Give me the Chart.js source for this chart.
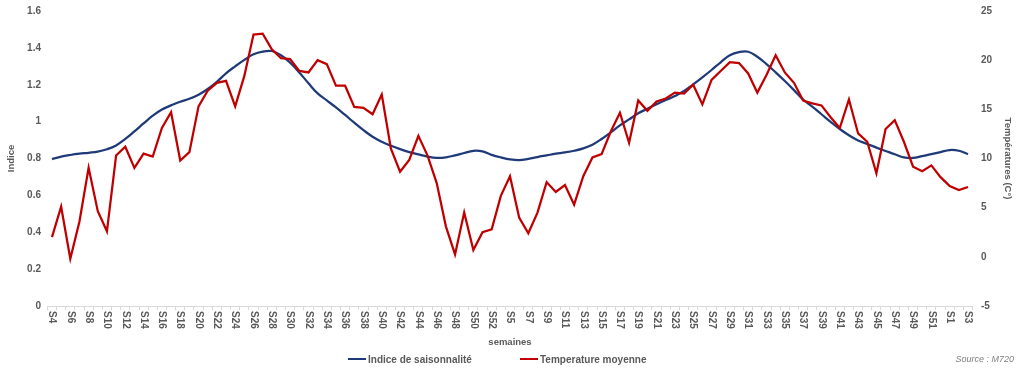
<!DOCTYPE html>
<html><head><meta charset="utf-8">
<script src="https://cdn.jsdelivr.net/npm/chart.js@4/dist/chart.umd.min.js"></script>
<style>
html,body{margin:0;padding:0;background:#fff;}
#wrap{position:relative;width:1024px;height:370px;font-family:'Liberation Sans',Arial,sans-serif;}
canvas{position:absolute;left:0;top:0;}
.leg{position:absolute;top:352px;height:14px;display:flex;align-items:center;font-size:10px;font-weight:bold;color:#595959;white-space:nowrap;}
.leg i{display:inline-block;width:18px;height:2.5px;margin-right:2px;}
#src{position:absolute;right:10px;top:352px;font-size:9px;font-style:italic;color:#808080;line-height:14px;}
</style></head>
<body><div id="wrap"><canvas id="c" width="1024" height="370"></canvas>
<div class="leg" style="left:348px"><i style="background:#1F3A78"></i>Indice de saisonnalité</div>
<div class="leg" style="left:520px"><i style="background:#C00000"></i>Temperature moyenne</div>
<div id="src">Source : M720</div>
</div>
<script>
const weeks = ["S4","S5","S6","S7","S8","S9","S10","S11","S12","S13","S14","S15","S16","S17","S18","S19","S20","S21","S22","S23","S24","S25","S26","S27","S28","S29","S30","S31","S32","S33","S34","S35","S36","S37","S38","S39","S40","S41","S42","S43","S44","S45","S46","S47","S48","S49","S50","S51","S52","S1",
"S5","S6","S7","S8","S9","S10","S11","S12","S13","S14","S15","S16","S17","S18","S19","S20","S21","S22","S23","S24","S25","S26","S27","S28","S29","S30","S31","S32","S33","S34","S35","S36","S37","S38","S39","S40","S41","S42","S43","S44","S45","S46","S47","S48","S49","S50","S51","S52","S1","S2","S3"];

const indice = [0.797,0.81,0.819,0.826,0.831,0.837,0.85,0.871,0.906,0.947,
0.99,1.032,1.066,1.088,1.108,1.124,1.146,1.177,1.216,1.262,
1.30,1.335,1.365,1.38,1.383,1.36,1.32,1.267,1.208,1.153,
1.115,1.077,1.036,0.994,0.954,0.918,0.891,0.869,0.851,0.835,
0.822,0.81,0.803,0.806,0.817,0.83,0.842,0.839,0.82,0.806,
0.795,0.791,0.798,0.808,0.817,0.826,0.833,0.842,0.855,0.875,
0.906,0.942,0.98,1.012,1.045,1.07,1.095,1.117,1.139,1.166,
1.202,1.24,1.28,1.322,1.36,1.377,1.379,1.352,1.312,1.267,
1.22,1.171,1.12,1.081,1.04,0.999,0.96,0.926,0.898,0.879,
0.859,0.841,0.823,0.806,0.803,0.813,0.824,0.835,0.846,0.842,
0.823];

const temperature = [2.0,5.1,-0.2,3.6,9.05,4.65,2.6,10.3,11.2,9.05,
10.5,10.2,13.1,14.7,9.8,10.65,15.3,16.9,17.7,17.9,
15.3,18.4,22.6,22.7,21.1,20.2,20.1,18.9,18.75,20.0,
19.6,17.4,17.4,15.25,15.15,14.5,16.5,11.0,8.65,9.85,
12.3,10.3,7.5,3.1,0.25,4.5,0.7,2.5,2.8,6.2,
8.2,4.0,2.4,4.5,7.6,6.6,7.3,5.3,8.2,10.1,
10.45,12.75,14.65,11.6,15.9,14.85,15.8,16.1,16.7,16.6,
17.5,15.5,18.0,18.9,19.8,19.7,18.65,16.7,18.5,20.5,
18.75,17.7,15.9,15.6,15.4,14.2,13.1,16.0,12.55,11.7,
8.5,13.0,13.9,11.7,9.16,8.7,9.3,8.1,7.2,6.8,
7.1];

const FONT = "'Liberation Sans', Arial, sans-serif";
const GREY = '#595959';

const xLabelPlugin = {
  id: 'xLabels',
  afterDraw(chart) {
    const xs = chart.scales.x, ctx = chart.ctx;
    ctx.save();
    ctx.font = 'bold 10px ' + FONT;
    ctx.fillStyle = GREY;
    ctx.textAlign = 'left';
    ctx.textBaseline = 'middle';
    weeks.forEach((w, i) => {
      if (i % 2) return;
      const x = xs.getPixelForTick(i);
      ctx.save();
      ctx.translate(x, xs.top + 5);
      ctx.rotate(Math.PI / 2);
      ctx.fillText(w, 0, 0);
      ctx.restore();
    });
    ctx.restore();
  }
};

new Chart(document.getElementById('c'), {
  type: 'line',
  data: {
    labels: weeks,
    datasets: [
      { label: 'Indice de saisonnalité', data: indice, yAxisID: 'y', borderColor: '#1F3A78', backgroundColor: '#1F3A78', borderWidth: 2.25, pointRadius: 0, tension: 0.4, order: 2, fill: false },
      { label: 'Temperature moyenne', data: temperature, yAxisID: 'y1', borderColor: '#C00000', backgroundColor: '#C00000', borderWidth: 2.25, pointRadius: 0, tension: 0, order: 1, fill: false }
    ]
  },
  options: {
    responsive: false, animation: false, devicePixelRatio: 1,
    layout: { padding: { top: 11, bottom: 22, left: 0, right: 0 } },
    plugins: { legend: { display: false }, tooltip: { enabled: false } },
    scales: {
      x: {
        type: 'category', offset: true,
        grid: { display: true, offset: true, drawOnChartArea: false, drawTicks: true, tickLength: 4, color: '#d9d9d9' },
        border: { display: true, color: '#d9d9d9', width: 1 },
        ticks: { display: false, autoSkip: false },
        title: { display: true, text: 'semaines', color: GREY, font: { family: FONT, size: 9.5, weight: 'bold' }, padding: { top: 0, bottom: 0 } },
        afterFit(s) { s.height = 42; }
      },
      y: {
        position: 'left', min: 0, max: 1.6,
        ticks: { stepSize: 0.2, padding: 6.4, color: GREY, font: { family: FONT, size: 10, weight: 'bold' },
                 callback: v => String(Math.round(v * 10) / 10) },
        grid: { display: false, drawTicks: false },
        border: { display: false },
        title: { display: true, text: 'Indice', color: GREY, font: { family: FONT, size: 9.5, weight: 'bold' }, padding: { top: 6, bottom: 0 } },
        afterFit(s) { s.width = 47.4; s.paddingTop = 0; s.paddingBottom = 0; }
      },
      y1: {
        position: 'right', min: -5, max: 25,
        ticks: { stepSize: 5, padding: 8.4, color: GREY, font: { family: FONT, size: 10, weight: 'bold' } },
        grid: { display: false, drawTicks: false },
        border: { display: false },
        title: { display: true, text: 'Températures (C°)', color: GREY, font: { family: FONT, size: 9.5, weight: 'bold' }, padding: { top: 11, bottom: 0 } },
        afterFit(s) { s.width = 51.4; s.paddingTop = 0; s.paddingBottom = 0; }
      }
    }
  },
  plugins: [xLabelPlugin]
});
</script>
</body></html>
